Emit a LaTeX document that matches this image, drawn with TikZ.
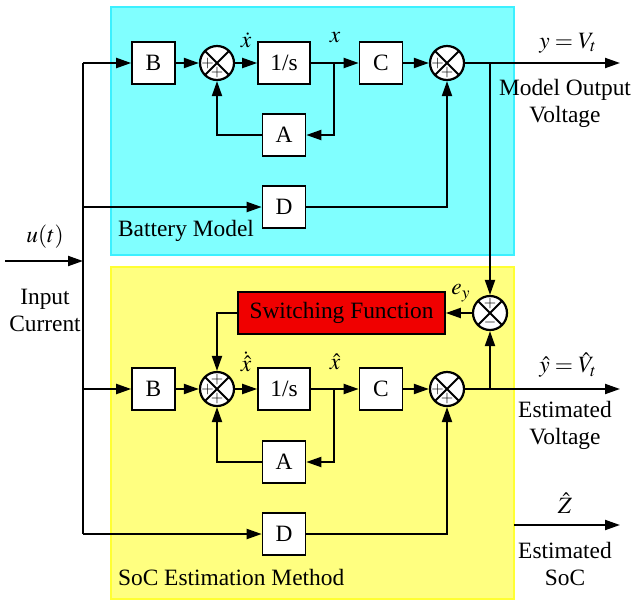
\documentclass[tikz,border=0pt]{standalone}
\usepackage{mathptmx}
\usepackage{fontspec}
\setmainfont{Liberation Serif}
\usetikzlibrary{arrows.meta}
\definecolor{modelcyan}{HTML}{80FFFF}
\definecolor{modeledge}{HTML}{3CF0FF}
\definecolor{estyellow}{HTML}{FFFF80}
\definecolor{estedge}{HTML}{FFFF33}
\definecolor{swred}{HTML}{F00000}

\begin{document}
\begin{tikzpicture}[x=0.5pt, y=-0.5pt,
  font=\fontsize{11.7}{13.5}\selectfont,
  >={Triangle[length=7.5pt,width=5pt]},
  blk/.style={draw, line width=0.8pt, fill=white, minimum width=21.5pt,
    minimum height=21pt, inner sep=0pt},
  sumjct/.style={circle, draw, line width=1.1pt, fill=white, minimum size=17pt,
    inner sep=0pt, path picture={
      \draw[line width=1pt] (path picture bounding box.north west) -- (path picture bounding box.south east)
        (path picture bounding box.north east) -- (path picture bounding box.south west);}},
  sgn/.style={font=\fontsize{8}{8}\selectfont, inner sep=0pt},
  wire/.style={line width=1pt}]

  % === Canvas — pixel grid of the figure ===
  \useasboundingbox (0,0) rectangle (633,601);

  % Model and estimator panels
  \draw[modeledge, line width=1pt, fill=modelcyan] (111,7) rectangle (514,255);
  \draw[estedge, line width=1pt, fill=estyellow] (111,267) rectangle (514,599);

  % === Battery model (top row) ===
  \node[blk] (B1) at (153.5,63) {B};
  \node[sumjct] (S1) at (217,63) {};
  \node[blk, minimum width=26pt] (I1) at (284,63) {1/s};
  \node[blk] (C1) at (381,63) {C};
  \node[sumjct] (S2) at (447,63) {};
  \node[blk] (A1) at (284,135) {A};
  \node[blk] (D1) at (284,207) {D};

  % === SoC estimator (bottom row) ===
  \node[blk, fill=swred, minimum width=103.5pt] (SW) at (341.5,313) {Switching Function};
  \node[sumjct] (S3) at (490,313) {};
  \node[blk] (B2) at (153.5,389) {B};
  \node[sumjct] (S4) at (217,389) {};
  \node[blk, minimum width=26pt] (I2) at (284,389) {1/s};
  \node[blk] (C2) at (381,389) {C};
  \node[sumjct] (S5) at (447,389) {};
  \node[blk] (A2) at (284,462) {A};
  \node[blk] (D2) at (284,534) {D};

  % Signs on the summing junctions
  \foreach \s/\a/\sg in {S1/180/+, S1/270/+, S2/180/+, S2/270/+,
                         S3/90/+, S3/270/-,
                         S4/90/+, S4/180/+, S4/270/+, S5/180/+, S5/270/+} {
    \node[sgn] at ([shift={(\a:4.7pt)}]\s.center) {$\sg$};
  }

  % Input bus and branch points
  \coordinate (uin) at (5,261);
  \coordinate (busin) at (83,261);
  \coordinate (bus1) at (83,63);
  \coordinate (bus2) at (83,207);
  \coordinate (bus3) at (83,389);
  \coordinate (bus4) at (83,534);
  \coordinate (xbr1) at (334,63);
  \coordinate (xbr2) at (334,389);
  \coordinate (ybr1) at (490,63);
  \coordinate (ybr2) at (490,389);
  \coordinate (yout1) at (620,63);
  \coordinate (yout2) at (620,389);
  \coordinate (zin) at (514,525);
  \coordinate (zout) at (620,525);

  % === Connectors ===
  \draw[wire] (bus1) -- (bus4);
  \draw[wire, ->] (uin) -- (busin);
  \foreach \a/\b in {bus1/B1, B1/S1, S1/I1, I1/C1, C1/S2, bus2/D1,
                     bus3/B2, B2/S4, S4/I2, I2/C2, C2/S5, bus4/D2, S3/SW} {
    \draw[wire, ->] (\a) -- (\b);
  }
  \draw[wire, ->] (xbr1) |- (A1);
  \draw[wire, ->] (A1) -| (S1);
  \draw[wire, ->] (D1) -| (S2);
  \draw[wire, ->] (S2) -- (yout1);
  \draw[wire, ->] (ybr1) -- (S3);
  \draw[wire, ->] (SW) -| (S4);
  \draw[wire, ->] (xbr2) |- (A2);
  \draw[wire, ->] (A2) -| (S4);
  \draw[wire, ->] (D2) -| (S5);
  \draw[wire, ->] (S5) -- (yout2);
  \draw[wire, ->] (ybr2) -- (S3);
  \draw[wire, ->] (zin) -- (zout);

  % === Labels ===
  \node (lxd1) at (246,40) {$\dot{x}$};
  \node (lx1) at (335,38) {$x$};
  \node (lxd2) at (246,362) {$\dot{\hat{x}}$};
  \node (lx2) at (335,362) {$\hat{x}$};
  \node (ley) at (461,293) {$e_y$};
  \node (lyout) at (568,43) {$y=V_t$};
  \node[align=center] (lmov) at (565,103) {Model Output\\Voltage};
  \node (lyhat) at (568,365) {$\hat{y}=\hat{V}_t$};
  \node[align=center] (lev) at (565,425) {Estimated\\Voltage};
  \node (lzhat) at (565,503) {$\hat{Z}$};
  \node[align=center] (lesoc) at (565,564) {Estimated\\SoC};
  \node (lut) at (45,237) {$u(t)$};
  \node[align=center] (lin) at (45,310) {Input\\Current};
  \node[anchor=west] (lbm) at (111,231) {Battery Model};
  \node[anchor=west] (lsoc) at (111,577) {SoC Estimation Method};

\end{tikzpicture}
\end{document}
